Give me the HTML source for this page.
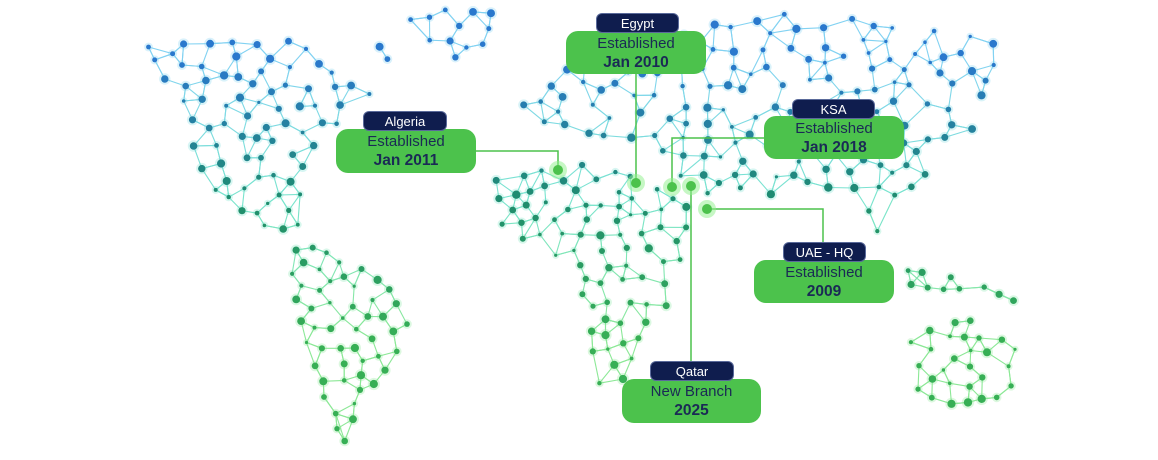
<!DOCTYPE html>
<html><head><meta charset="utf-8"><style>
html,body{margin:0;padding:0;background:#fff;width:1158px;height:460px;overflow:hidden;font-family:"Liberation Sans",sans-serif}
#wrap{position:relative;width:1158px;height:460px}
svg{position:absolute;left:0;top:0}
.pill{position:absolute;background:#0f1d4e;color:#fff;font-size:13px;text-align:center;border-radius:6px;height:20px;line-height:20px;border:1px solid #5a6a9a;box-sizing:border-box;z-index:3}
.box{position:absolute;background:#4cc24c;color:#1a2a55;font-size:15px;text-align:center;border-radius:12px;line-height:19px;padding-top:3px;box-sizing:border-box;z-index:2}
.box b{display:block;font-size:15.5px}
</style></head><body><div id="wrap">
<svg id="s" width="1158" height="460" viewBox="0 0 1158 460"></svg>
<div class="box" style="left:566px;top:31px;width:140px;height:43px">Established<b>Jan 2010</b></div>
<div class="pill" style="left:596px;top:13px;width:83px">Egypt</div>
<div class="box" style="left:336px;top:129px;width:140px;height:44px">Established<b>Jan 2011</b></div>
<div class="pill" style="left:363px;top:111px;width:84px">Algeria</div>
<div class="box" style="left:764px;top:116px;width:140px;height:43px">Established<b>Jan 2018</b></div>
<div class="pill" style="left:792px;top:99px;width:83px">KSA</div>
<div class="box" style="left:754px;top:260px;width:140px;height:43px">Established<b>2009</b></div>
<div class="pill" style="left:783px;top:242px;width:83px">UAE - HQ</div>
<div class="box" style="left:622px;top:379px;width:139px;height:44px">New Branch<b>2025</b></div>
<div class="pill" style="left:650px;top:361px;width:84px">Qatar</div>
</div>
<script>
var seed=7;function r(){seed=(seed*16807)%2147483647;return (seed-1)/2147483646;}
var regions=[
{p:[[135,45],[180,38],[300,40],[345,80],[380,92],[340,120],[310,160],[300,200],[300,235],[280,240],[240,215],[200,185],[185,140],[180,100],[150,75]],n:75},
{p:[[395,12],[490,8],[500,35],[460,60],[430,45]],n:12},
{p:[[380,45],[390,60],[375,60]],n:2},
{p:[[290,245],[340,250],[410,305],[405,355],[360,400],[345,450],[320,390],[300,320],[288,270]],n:52},
{p:[[520,90],[560,65],[620,40],[700,25],[800,10],[1000,40],[990,110],[950,160],[900,200],[880,245],[860,200],[800,195],[740,200],[690,190],[650,165],[600,140],[560,130],[525,125]],n:155},
{p:[[495,175],[540,165],[600,165],[650,180],[695,200],[690,260],[660,320],[625,380],[600,400],[590,340],[575,270],[540,250],[498,235]],n:78},
{p:[[905,330],[970,320],[1020,350],[1012,395],[965,408],[910,392]],n:28},
{p:[[900,268],[960,275],[1030,305],[1000,300],[940,290],[905,285]],n:10}
];
function inP(x,y,p){var c=false;for(var i=0,j=p.length-1;i<p.length;j=i++){if(((p[i][1]>y)!=(p[j][1]>y))&&(x<(p[j][0]-p[i][0])*(y-p[i][1])/(p[j][1]-p[i][1])+p[i][0]))c=!c;}return c;}
var pts=[];
regions.forEach(function(R,ri){var xs=R.p.map(a=>a[0]),ys=R.p.map(a=>a[1]);var x0=Math.min(...xs),x1=Math.max(...xs),y0=Math.min(...ys),y1=Math.max(...ys);var cnt=0,tries=0;while(cnt<R.n&&tries<20000){tries++;var x=x0+r()*(x1-x0),y=y0+r()*(y1-y0);if(!inP(x,y,R.p))continue;var ok=true;for(var k=0;k<pts.length;k++){var d=Math.hypot(pts[k].x-x,pts[k].y-y);if(d<14){ok=false;break;}}if(!ok)continue;pts.push({x:x,y:y,g:ri});cnt++;}});
function col(y){var t=Math.max(0,Math.min(1,(y-60)/280));var c1=[42,120,205],c2=[31,140,110],c3=[55,175,85];var c=t<.5?c1.map((v,i)=>v+(c2[i]-v)*t*2):c2.map((v,i)=>v+(c3[i]-v)*(t-.5)*2);return 'rgb('+c.map(Math.round).join(',')+')';}
function lcol(y){var t=Math.max(0,Math.min(1,(y-60)/280));var c1=[130,210,242],c2=[120,228,205],c3=[140,232,150];var c=t<.5?c1.map((v,i)=>v+(c2[i]-v)*t*2):c2.map((v,i)=>v+(c3[i]-v)*(t-.5)*2);return 'rgb('+c.map(Math.round).join(',')+')';}
var h='';
pts.forEach(function(a,i){var ds=[];pts.forEach(function(b,j){if(j!==i&&b.g===a.g)ds.push([Math.hypot(a.x-b.x,a.y-b.y),j]);});ds.sort((u,v)=>u[0]-v[0]);for(var k=0;k<Math.min(3,ds.length);k++){if(ds[k][0]>60)break;var b=pts[ds[k][1]];if(ds[k][1]<i&&k>1)continue;h+='<line x1="'+a.x.toFixed(1)+'" y1="'+a.y.toFixed(1)+'" x2="'+b.x.toFixed(1)+'" y2="'+b.y.toFixed(1)+'" stroke="'+lcol((a.y+b.y)/2)+'" stroke-width="1.1"/>';}});
pts.forEach(function(a){var rr=1.6+r()*2.6;h+='<circle cx="'+a.x.toFixed(1)+'" cy="'+a.y.toFixed(1)+'" r="'+(rr+2).toFixed(1)+'" fill="'+lcol(a.y)+'" opacity=".3"/><circle cx="'+a.x.toFixed(1)+'" cy="'+a.y.toFixed(1)+'" r="'+rr.toFixed(1)+'" fill="'+col(a.y)+'"/>';});
var g='#4cc24c';
h+='<g stroke="'+g+'" stroke-width="1.5" fill="none"><polyline points="476,151 558,151 558,170"/><polyline points="636,74 636,183"/><polyline points="764,138 672,138 672,187"/><polyline points="823,260 823,209 707,209"/><polyline points="691,380 691,186"/></g>';
[[558,170],[636,183],[672,187],[691,186],[707,209]].forEach(function(c){h+='<circle cx="'+c[0]+'" cy="'+c[1]+'" r="9" fill="#8ef08a" opacity=".5"/><circle cx="'+c[0]+'" cy="'+c[1]+'" r="5" fill="#4cc24c"/>';});
document.getElementById('s').innerHTML=h;
</script>
</body></html>
